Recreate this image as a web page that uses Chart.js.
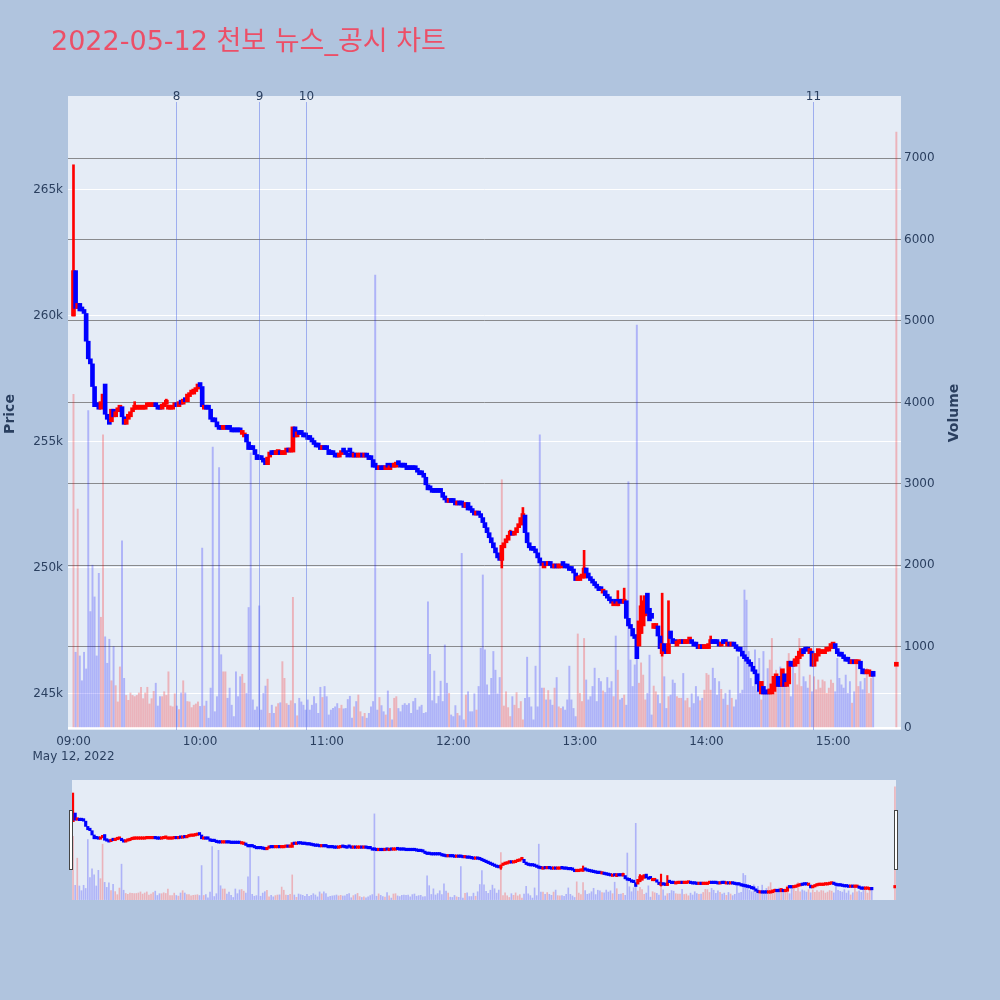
<!DOCTYPE html>
<html>
<head>
<meta charset="utf-8">
<title>천보 뉴스_공시 차트</title>
<script src="https://cdn.jsdelivr.net/npm/chart.js@4.4.1/dist/chart.umd.min.js"></script>
<style>
  html, body { margin: 0; padding: 0; background: #b0c4de; }
  #page { position: relative; width: 1000px; height: 1000px; overflow: hidden; }
  #main { position: absolute; left: 0; top: 0; }
  #slider { position: absolute; left: 72px; top: 780px; }
  .handle { position: absolute; top: 810px; width: 2px; height: 58px; background: #fff; border: 1px solid #444; }
</style>
</head>
<body>
<div id="page">
  <canvas id="main" width="1000" height="770"></canvas>
  <canvas id="slider" width="824" height="120"></canvas>
  <div class="handle" style="left:69px"></div>
  <div class="handle" style="left:894px"></div>
</div>
<script>
const titleText = '2022-05-12 천보 뉴스_공시 차트';

// x axis: minutes after 09:00
const timeTicks = [0, 60, 120, 180, 240, 300, 360];
const timeLabels = ['09:00', '10:00', '11:00', '12:00', '13:00', '14:00', '15:00'];
const dateLabel = 'May 12, 2022';
const priceTicks = [245, 250, 255, 260, 265];          // thousand won
const volumeTicks = [0, 1000, 2000, 3000, 4000, 5000, 6000, 7000];

// news / disclosure markers
const newsMinutes = [48.6, 87.9, 110.2, 350.4];
const newsLabels = ['8', '9', '10', '11'];

// 1-minute candles 09:00 .. 15:19, prices in thousand won
const opens = [
260.0,261.8,260.3,260.5,260.2,260.2,260.1,259.0,258.3,258.1,
257.2,256.4,256.4,256.3,256.6,257.3,256.1,255.9,255.8,256.3,
256.0,256.2,256.3,256.4,256.0,255.7,255.9,256.0,256.2,256.3,
256.3,256.3,256.3,256.3,256.3,256.4,256.4,256.4,256.4,256.5,
256.4,256.3,256.3,256.4,256.5,256.3,256.3,256.3,256.4,256.5,
256.4,256.6,256.5,256.7,256.6,256.8,256.9,256.9,257.0,257.1,
257.3,257.2,256.3,256.4,256.3,256.3,255.9,255.8,255.8,255.6,
255.5,255.5,255.5,255.6,255.5,255.5,255.4,255.4,255.4,255.4,
255.3,255.2,255.3,255.0,254.7,254.7,254.7,254.5,254.3,254.3,
254.3,254.2,254.1,254.4,254.6,254.5,254.5,254.5,254.6,254.5,
254.5,254.6,254.6,254.6,254.6,255.6,255.2,255.4,255.3,255.3,
255.2,255.2,255.1,255.1,255.0,254.9,254.8,254.8,254.7,254.8,
254.7,254.7,254.5,254.5,254.5,254.4,254.4,254.5,254.6,254.6,
254.5,254.7,254.6,254.4,254.5,254.4,254.4,254.5,254.4,254.5,
254.4,254.3,254.3,254.0,254.0,253.9,254.0,253.9,253.9,254.0,
253.9,254.0,254.0,254.0,254.2,254.1,254.0,254.0,254.0,253.9,
253.9,253.9,253.9,253.9,253.8,253.7,253.7,253.6,253.3,253.1,
253.1,253.0,253.0,253.0,253.0,253.0,252.8,252.7,252.6,252.7,
252.6,252.6,252.5,252.6,252.5,252.5,252.4,252.6,252.3,252.3,
252.2,252.1,252.2,252.1,252.0,251.8,251.6,251.4,251.2,251.0,
250.8,250.6,250.4,250.3,250.8,251.0,251.1,251.3,251.4,251.3,
251.4,251.6,251.7,252.0,252.1,251.4,251.0,250.8,250.7,250.7,
250.6,250.4,250.2,250.0,250.2,250.1,250.2,250.1,250.0,250.1,
250.0,250.0,250.1,250.1,250.0,250.0,249.9,249.9,249.8,249.5,
249.5,249.6,249.6,250.0,249.8,249.6,249.5,249.4,249.3,249.2,
249.1,249.0,249.1,248.9,248.8,248.7,248.5,248.6,248.5,248.6,
248.6,248.6,248.7,248.0,247.7,247.6,247.3,247.2,246.9,247.4,
247.7,248.1,249.0,248.4,248.2,247.6,247.6,247.7,247.3,246.6,
247.0,246.8,246.6,247.5,247.2,247.1,246.9,247.0,247.0,247.1,
247.0,247.0,247.1,247.1,247.0,246.9,246.9,246.8,246.9,246.8,
246.8,246.8,247.0,247.1,247.0,247.0,247.0,246.9,247.0,247.0,
246.9,247.0,246.9,247.0,246.9,246.8,246.7,246.7,246.5,246.4,
246.3,246.2,246.1,245.9,245.8,245.4,245.0,245.3,245.0,245.0,
245.0,245.0,245.1,245.3,245.7,245.3,245.3,245.8,245.3,245.4,
246.3,246.1,246.1,246.2,246.4,246.5,246.8,246.8,246.7,246.6,
246.7,246.1,246.3,246.5,246.6,246.6,246.6,246.7,246.7,246.8,
246.9,247.0,246.8,246.6,246.5,246.5,246.4,246.3,246.3,246.2,
246.3,246.2,246.2,246.3,246.0,245.8,245.8,245.8,245.7,245.9
];
const closes = [
261.8,260.3,260.5,260.2,260.2,260.1,259.0,258.3,258.1,257.2,
256.4,256.4,256.3,256.6,256.9,256.1,255.9,255.7,256.3,256.0,
256.2,256.3,256.4,256.0,255.7,255.9,256.1,256.2,256.3,256.4,
256.4,256.4,256.4,256.4,256.4,256.5,256.5,256.5,256.5,256.4,
256.3,256.3,256.5,256.5,256.6,256.4,256.4,256.4,256.5,256.4,
256.6,256.5,256.7,256.6,256.9,256.9,257.0,257.1,257.1,257.3,
257.2,256.4,256.4,256.3,256.3,255.9,255.8,255.8,255.6,255.5,
255.5,255.6,255.6,255.5,255.5,255.4,255.4,255.4,255.4,255.4,
255.4,255.3,255.0,254.7,254.7,254.7,254.5,254.3,254.3,254.3,
254.2,254.1,254.4,254.6,254.5,254.5,254.6,254.7,254.5,254.6,
254.6,254.7,254.6,254.7,255.6,255.2,255.4,255.3,255.3,255.2,
255.2,255.1,255.1,255.0,254.9,254.8,254.8,254.7,254.8,254.7,
254.7,254.5,254.5,254.5,254.4,254.4,254.5,254.6,254.6,254.5,
254.4,254.6,254.4,254.5,254.4,254.5,254.5,254.4,254.5,254.4,
254.3,254.3,254.0,254.0,253.9,254.0,253.9,253.9,254.0,254.0,
254.0,254.0,254.1,254.2,254.1,254.0,254.0,254.0,253.9,253.9,
253.9,253.9,253.9,253.8,253.7,253.7,253.6,253.3,253.1,253.1,
253.0,253.0,253.0,253.0,253.0,252.8,252.7,252.6,252.7,252.6,
252.6,252.5,252.6,252.5,252.5,252.4,252.6,252.3,252.3,252.2,
252.1,252.2,252.1,252.0,251.8,251.6,251.4,251.2,251.0,250.8,
250.6,250.4,250.3,250.9,251.0,251.1,251.3,251.4,251.3,251.4,
251.6,251.7,252.0,252.1,251.4,251.0,250.8,250.7,250.7,250.6,
250.4,250.2,250.1,250.2,250.1,250.2,250.1,250.0,250.1,250.0,
250.1,250.1,250.1,250.0,250.0,249.9,249.9,249.8,249.5,249.6,
249.7,249.7,250.0,249.8,249.6,249.5,249.4,249.3,249.2,249.1,
249.1,249.1,248.9,248.8,248.7,248.6,248.6,248.6,248.6,248.6,
248.6,248.7,248.0,247.7,247.6,247.3,247.2,246.4,247.9,248.5,
248.7,248.9,248.2,247.9,248.0,247.8,247.8,247.3,246.8,247.0,
246.7,246.6,247.0,247.2,247.0,247.0,247.1,247.1,247.1,247.0,
247.1,247.1,247.2,247.0,246.9,246.9,246.8,246.9,246.8,246.9,
246.9,247.0,247.1,247.0,247.0,247.0,246.9,247.0,247.0,247.0,
247.0,246.9,247.0,246.9,246.8,246.7,246.7,246.5,246.4,246.3,
246.2,246.1,245.9,245.8,245.4,245.1,245.5,245.0,245.0,245.0,
245.2,245.4,245.7,245.8,245.3,245.3,246.0,245.3,245.4,246.3,
246.1,246.1,246.4,246.5,246.7,246.8,246.6,246.7,246.7,246.8,
246.1,246.6,246.6,246.8,246.7,246.7,246.7,246.8,246.8,247.0,
247.0,246.8,246.6,246.5,246.5,246.4,246.3,246.3,246.2,246.3,
246.2,246.3,246.3,246.0,245.8,245.8,245.9,245.9,245.9,245.7
];
const volumes = [
4100,930,2690,885,580,930,725,3900,1430,2000,
1610,885,1900,1360,3600,1120,795,1090,580,1000,
520,320,750,2300,610,400,340,430,400,385,
400,430,500,360,430,500,295,360,450,550,
270,385,385,445,400,690,270,260,420,270,
225,430,580,430,325,320,250,280,295,320,
265,2210,270,330,120,490,3450,200,385,3200,
900,690,690,365,490,280,140,690,385,630,
660,550,425,1480,3380,345,220,260,1500,220,
425,515,600,180,280,180,260,300,310,815,
610,300,280,335,1605,300,150,365,320,280,
220,345,220,280,385,300,180,500,375,510,
385,160,220,240,260,300,240,280,235,240,
350,390,120,260,325,405,200,140,180,120,
180,260,325,5565,220,375,275,200,160,455,
240,100,365,385,240,200,280,300,280,300,
180,325,365,220,260,280,180,190,1550,905,
335,700,300,390,575,325,1020,550,425,160,
140,275,180,150,2145,100,405,445,200,200,
420,220,510,980,1880,960,530,405,610,940,
710,420,620,3050,270,445,250,140,385,280,
435,240,325,100,365,870,375,260,100,760,
260,3600,490,490,345,460,345,280,490,620,
260,240,260,220,345,760,345,240,140,1155,
425,325,1100,590,345,385,510,735,325,610,
570,455,435,620,490,570,385,1130,710,345,
365,405,280,3025,835,510,775,4950,550,800,
650,345,425,895,160,515,445,405,300,875,
630,240,385,405,590,550,385,365,365,670,
335,365,250,420,300,510,385,335,365,465,
670,650,465,735,610,405,570,475,355,425,
280,465,365,260,345,875,425,465,1695,1570,
940,610,510,960,445,855,345,940,445,730,
835,1100,445,710,630,750,590,650,670,915,
385,835,670,530,1100,510,630,570,490,650,
445,630,470,590,490,590,570,425,490,590,
550,445,855,610,530,490,650,425,570,305,
445,835,510,570,470,610,730,425,610,690
];
// candles whose high/low reach past the body: [minute, low, high]
const wicks = [
  [0, 260.0, 266.0], [29, 256.3, 256.6], [44, 256.5, 256.7], [203, 250.0, 250.9],
  [207, 251.3, 251.5], [213, 252.0, 252.4], [242, 249.6, 250.7], [258, 248.5, 249.1],
  [261, 248.6, 249.2], [269, 247.4, 248.9], [279, 246.5, 249.0], [282, 246.6, 248.7],
  [302, 247.0, 247.3]
];
// closing auction 15:30
const auctionMinute = 390, auctionOpen = 246.1, auctionClose = 246.2, auctionVolume = 7320;

if (opens.length !== closes.length || opens.length !== volumes.length) {
  throw new Error('length mismatch ' + opens.length + ' ' + closes.length + ' ' + volumes.length);
}

const minutes = opens.map((_, i) => i).concat([auctionMinute]);
const allOpen = opens.concat([auctionOpen]);
const allClose = closes.concat([auctionClose]);
const allVolume = volumes.concat([auctionVolume]);
const isUp = i => allClose[i] > allOpen[i];

Chart.defaults.font.family = '"DejaVu Sans", "Noto Sans CJK KR", sans-serif';
Chart.defaults.font.size = 12;
Chart.defaults.color = '#2a3f5f';

function makeDatasets(s) {
  return [
    {
      label: 'Volume', yAxisID: 'y2', order: 3, grouped: false, barThickness: s.vol,
      data: minutes.map((m, i) => ({ x: m, y: allVolume[i] })),
      backgroundColor: minutes.map((m, i) => isUp(i) ? 'rgba(255,0,0,0.24)' : 'rgba(0,0,255,0.24)')
    },
    {
      label: 'Wick', yAxisID: 'y', order: 2, grouped: false, barThickness: s.wick,
      data: wicks.map(w => ({ x: w[0], y: [w[1], w[2]] })),
      backgroundColor: wicks.map(w => isUp(minutes.indexOf(w[0])) ? 'red' : 'blue')
    },
    {
      label: 'Price', yAxisID: 'y', order: 1, grouped: false, barThickness: s.body,
      minBarLength: s.min, borderSkipped: false,
      data: minutes.map((m, i) => ({ x: m, y: [allOpen[i], allClose[i]] })),
      backgroundColor: minutes.map((m, i) => isUp(i) ? 'red' : 'blue')
    }
  ];
}

const plotBg = {
  id: 'plotBg',
  beforeDraw(chart) {
    const { ctx, chartArea: a } = chart;
    ctx.save();
    ctx.fillStyle = '#e5ecf6';
    ctx.fillRect(a.left, a.top, a.right - a.left, a.bottom - a.top);
    ctx.restore();
  }
};

const decor = {
  id: 'decor',
  afterDatasetsDraw(chart) {
    const { ctx, chartArea: a } = chart;
    const xs = chart.scales.x;
    ctx.save();
    ctx.font = '12px "DejaVu Sans"';
    ctx.fillStyle = '#2a3f5f';
    ctx.textAlign = 'center';
    ctx.textBaseline = 'middle';
    newsMinutes.forEach((m, k) => {
      const px = Math.round(xs.getPixelForValue(m)) + 0.5;
      ctx.strokeStyle = 'rgba(70,100,230,0.45)';
      ctx.lineWidth = 1;
      ctx.beginPath();
      ctx.moveTo(px, a.top + 6);
      ctx.lineTo(px, a.bottom);
      ctx.stroke();
      ctx.fillText(newsLabels[k], px, a.top + 1);
    });
    ctx.restore();
  },
  afterDraw(chart) {
    const { ctx } = chart;
    ctx.save();
    ctx.fillStyle = '#ec4f67';
    ctx.font = '27px "DejaVu Sans", "Noto Sans CJK KR"';
    ctx.textBaseline = 'alphabetic';
    ctx.fillText(titleText, 51, 50);

    ctx.fillStyle = '#2a3f5f';
    ctx.font = 'bold 14px "DejaVu Sans"';
    ctx.textAlign = 'center';
    ctx.textBaseline = 'middle';
    ctx.translate(10, 414);
    ctx.rotate(-Math.PI / 2);
    ctx.fillText('Price', 0, 0);
    ctx.restore();

    ctx.save();
    ctx.fillStyle = '#2a3f5f';
    ctx.font = 'bold 14px "DejaVu Sans"';
    ctx.textAlign = 'center';
    ctx.textBaseline = 'middle';
    ctx.translate(954, 413);
    ctx.rotate(-Math.PI / 2);
    ctx.fillText('Volume', 0, 0);
    ctx.restore();
  }
};

const priceMin = 243.57, priceMax = 268.73;
const volMin = -25, volMax = 7764;

new Chart(document.getElementById('main'), {
  type: 'bar',
  data: { datasets: makeDatasets({ vol: 1.3, wick: 2, body: 4, min: 4 }) },
  options: {
    responsive: false,
    animation: false,
    layout: { padding: { top: 96, left: 0, right: 0, bottom: 0 } },
    plugins: { legend: { display: false }, tooltip: { enabled: false } },
    scales: {
      x: {
        type: 'linear', min: -2.6, max: 392.2, offset: false,
        grid: { display: false, drawTicks: false }, border: { display: false },
        afterBuildTicks: s => { s.ticks = timeTicks.map(v => ({ value: v })); },
        afterFit: s => { s.height = 40; },
        ticks: {
          padding: 5, maxRotation: 0, autoSkip: false,
          font: { size: 12, lineHeight: 1.2 },
          callback: v => {
            const i = timeTicks.indexOf(v);
            return i === 0 ? [timeLabels[0], dateLabel] : timeLabels[i];
          }
        }
      },
      y: {
        position: 'left', min: priceMin, max: priceMax,
        afterBuildTicks: s => { s.ticks = priceTicks.map(v => ({ value: v })); },
        afterFit: s => { s.width = 68; },
        grid: { color: '#ffffff', lineWidth: 1, drawTicks: false },
        border: { display: false },
        ticks: { padding: 5, callback: v => v + 'k' }
      },
      y2: {
        position: 'right', min: volMin, max: volMax,
        afterBuildTicks: s => { s.ticks = volumeTicks.map(v => ({ value: v })); },
        afterFit: s => { s.width = 99; },
        grid: {
          color: c => c.tick && c.tick.value === 0 ? '#ffffff' : 'rgba(105,105,105,0.75)',
          lineWidth: c => c.tick && c.tick.value === 0 ? 2 : 1,
          drawTicks: false
        },
        border: { display: false },
        ticks: { padding: 3, callback: v => String(v) }
      }
    }
  },
  plugins: [plotBg, decor]
});

new Chart(document.getElementById('slider'), {
  type: 'bar',
  data: { datasets: makeDatasets({ vol: 1, wick: 1.5, body: 2.5, min: 2.5 }) },
  options: {
    responsive: false,
    animation: false,
    layout: { padding: 0 },
    plugins: { legend: { display: false }, tooltip: { enabled: false } },
    scales: {
      x: { type: 'linear', display: false, min: -0.5, max: 390.5, offset: false },
      y: { display: false, min: priceMin, max: priceMax },
      y2: { display: false, position: 'right', min: volMin, max: volMax }
    }
  },
  plugins: [plotBg]
});
</script>
</body>
</html>
